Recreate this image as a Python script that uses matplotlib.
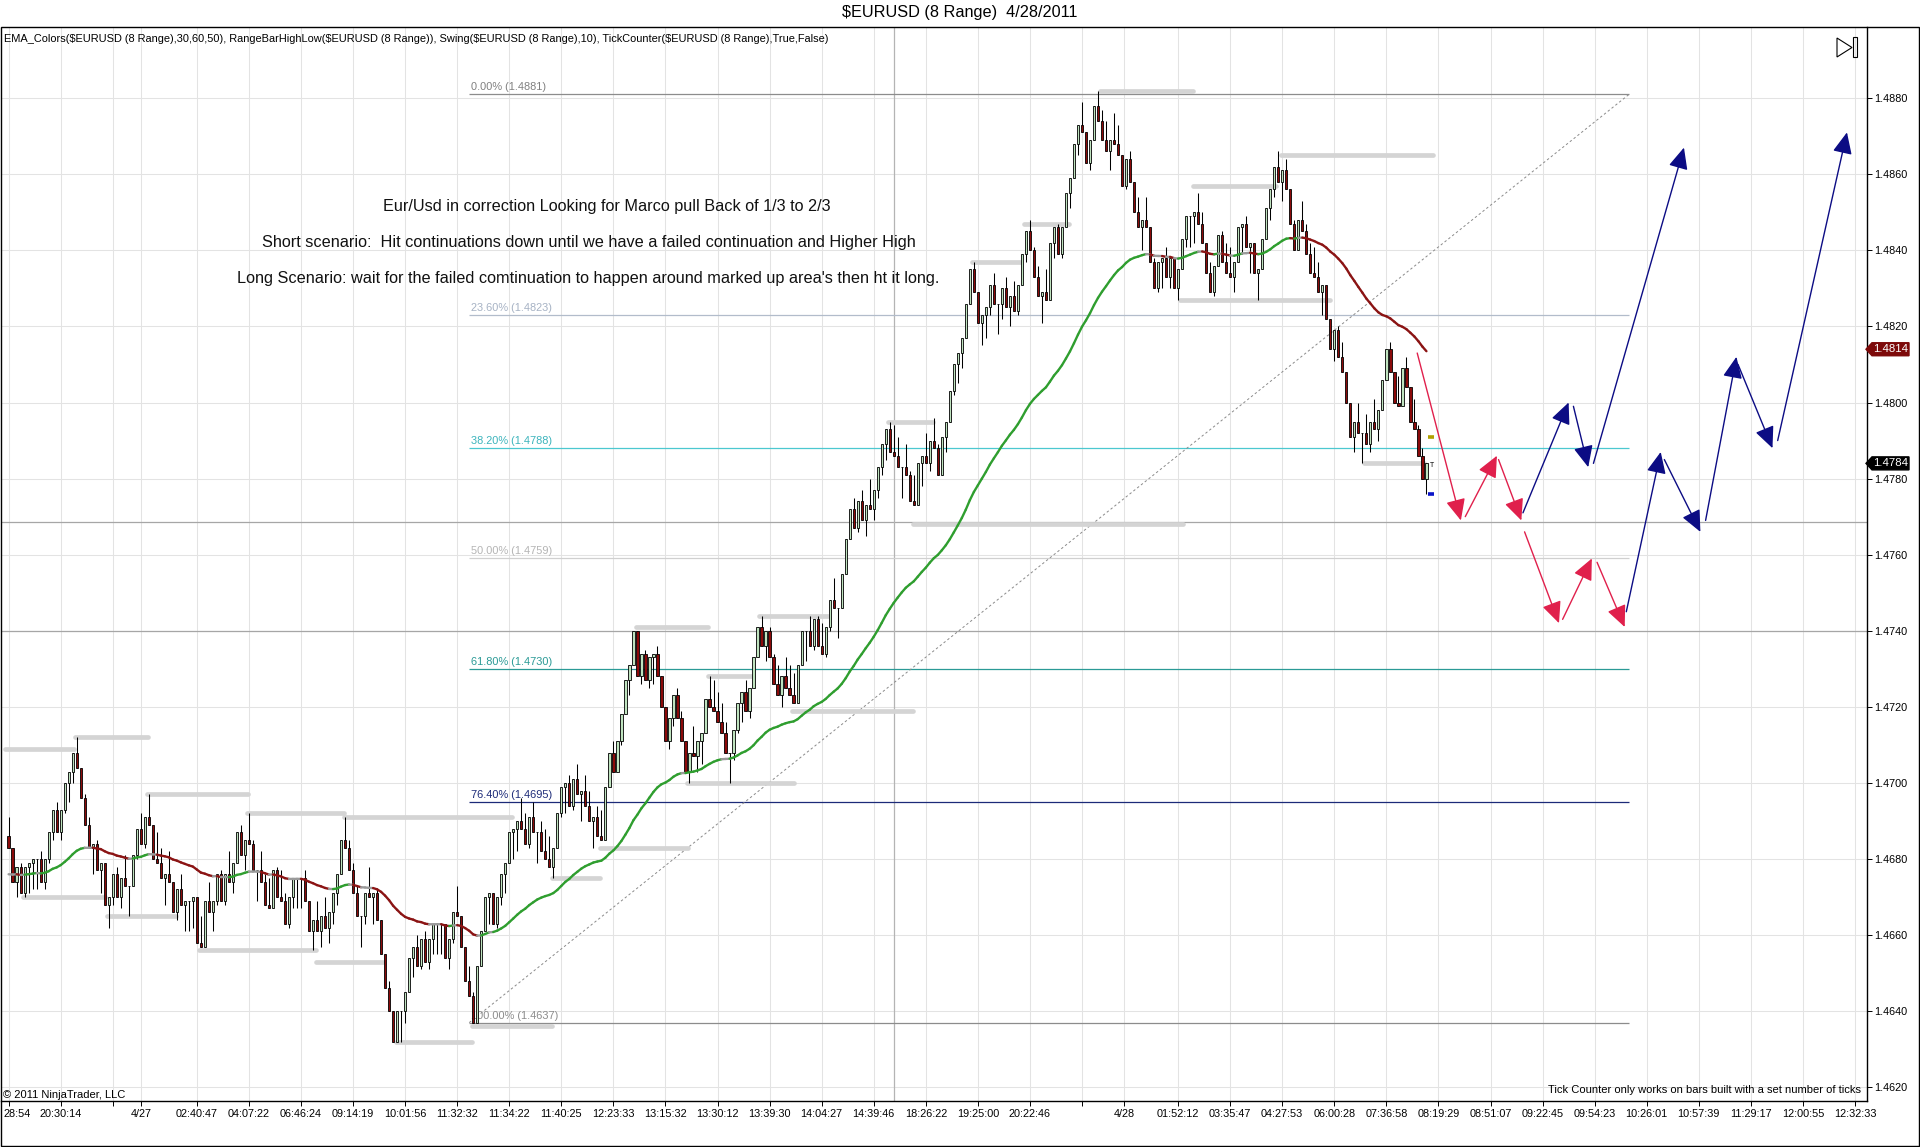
import numpy as np
import matplotlib
matplotlib.use("Agg")
import matplotlib.pyplot as plt
import matplotlib.transforms as mtrans
from matplotlib.patches import Polygon, Rectangle
from matplotlib.collections import LineCollection

plt.rcParams['font.family'] = ['Liberation Sans', 'DejaVu Sans']

# ---- data (prices in pips above BASE) ----
BASE = 1.4600
PIP = 0.0001
RANGE = 8            # 8 range bars
EMA_PERIOD = 50
ema_start = 1.4676

first_open = 86
closes_pips = [
    83, 74, 78, 71, 78, 79, 80, 80, 74, 80,
    87, 93, 87, 93, 100, 103, 108, 104, 96, 89,
    83, 84, 77, 79, 68, 70, 76, 70, 75, 73,
    73, 81, 88, 84, 91, 89, 80, 79, 75, 76,
    74, 66, 72, 68, 69, 69, 70, 58, 57, 69,
    66, 69, 76, 69, 76, 74, 79, 87, 81, 85,
    84, 77, 77, 74, 68, 67, 77, 70, 69, 63,
    70, 75, 75, 75, 69, 61, 64, 61, 65, 62,
    66, 71, 76, 85, 83, 77, 71, 65, 65, 71,
    70, 71, 64, 55, 46, 40, 32, 40, 40, 45,
    54, 57, 52, 59, 53, 59, 63, 63, 63, 54,
    59, 66, 65, 57, 48, 44, 37, 52, 61, 70,
    71, 63, 70, 76, 79, 87, 88, 90, 88, 84,
    91, 87, 87, 82, 80, 78, 83, 92, 99, 100,
    94, 101, 97, 98, 94, 90, 91, 86, 85, 99,
    108, 103, 111, 118, 127, 131, 140, 128, 134, 127,
    133, 134, 128, 120, 111, 117, 123, 117, 111, 103,
    108, 107, 111, 113, 122, 120, 119, 116, 113, 108,
    108, 114, 121, 124, 119, 125, 133, 141, 136, 140,
    133, 126, 123, 128, 125, 123, 121, 131, 140, 140,
    136, 143, 136, 134, 141, 148, 146, 146, 155, 164,
    172, 167, 174, 169, 173, 172, 177, 183, 189, 193,
    187, 186, 183, 183, 181, 174, 173, 184, 186, 184,
    190, 188, 181, 191, 195, 203, 210, 213, 217, 226,
    235, 229, 221, 223, 225, 231, 226, 226, 230, 225,
    228, 224, 231, 239, 245, 240, 233, 228, 229, 227,
    242, 246, 239, 246, 255, 259, 268, 273, 271, 263,
    269, 278, 274, 269, 266, 269, 268, 265, 257, 264,
    258, 250, 246, 248, 246, 237, 230, 237, 238, 233,
    238, 230, 235, 243, 249, 249, 250, 247, 242, 234,
    229, 236, 244, 237, 234, 233, 237, 246, 247, 241,
    242, 234, 235, 243, 251, 256, 262, 258, 261, 256,
    247, 240, 248, 245, 239, 234, 233, 229, 231, 222,
    214, 219, 212, 208, 200, 191, 195, 192, 192, 189,
    195, 193, 198, 206, 214, 208, 200, 199, 209, 204,
    195, 193, 186, 180, 184,
]

# swing high/low levels: (first bar, last bar, price)
swing_lines = [
    (-1.0, 16.4, 1.4709), (16.7, 34.8, 1.4712), (3.5, 24.0, 1.4670),
    (24.5, 41.8, 1.4665), (34.6, 59.8, 1.4697), (47.5, 76.8, 1.4656),
    (59.5, 83.8, 1.4692), (83.8, 125.6, 1.4691), (76.7, 93.5, 1.4653),
    (96.8, 115.6, 1.4632), (115.6, 135.6, 1.4636), (135.6, 147.7, 1.4675),
    (147.7, 169.7, 1.4683), (156.7, 174.7, 1.4741), (169.4, 196.0, 1.4700),
    (174.7, 185.9, 1.4728), (187.4, 204.7, 1.4744), (195.6, 225.9, 1.4719),
    (219.5, 230.9, 1.4795), (225.7, 293.2, 1.4768), (240.6, 252.8, 1.4837),
    (253.4, 264.8, 1.4847), (272.6, 295.8, 1.4882), (295.7, 316.4, 1.4857),
    (292.5, 329.8, 1.4827), (317.8, 355.6, 1.4865), (338.4, 353.4, 1.4784),
]

# fibonacci retracement
fib_pct = [0.0, 23.6, 38.2, 50.0, 61.8, 76.4, 100.0]
fib_price = [1.4881, 1.4823, 1.4788, 1.4759, 1.4730, 1.4695, 1.4637]
fib_line_col = ['#8c8c8c', '#b2bccb', '#4cc8d0', '#d0d0d0', '#2a9a96', '#1c2a78', '#8c8c8c']
fib_text_col = ['#808080', '#a6b2c4', '#3cb4bc', '#b4b4b4', '#2a9a96', '#1c2a78', '#8c8c8c']
fib_start, fib_end = 115, 404.6

# user drawn horizontal / vertical lines
h_lines = [1.4740, 1.47686]
v_lines = [221]

# projected path arrows: (bar0, price0, bar1, price1)
red_arrows = [
    (351.7, 1.4813, 362.6, 1.4769), (363.7, 1.4770, 371.6, 1.4786),
    (372.0, 1.4785, 377.7, 1.4769), (378.5, 1.4766, 387.1, 1.4742),
    (388.0, 1.4743, 395.3, 1.4759), (396.6, 1.4758, 403.5, 1.4741),
]
blue_arrows = [
    (378.1, 1.4771, 389.5, 1.4800), (390.7, 1.4799, 394.4, 1.4783),
    (395.7, 1.4784, 418.3, 1.4867), (403.9, 1.4745, 412.5, 1.4787),
    (413.4, 1.4785, 422.4, 1.4766), (423.7, 1.4769, 431.4, 1.4812),
    (431.8, 1.4810, 440.4, 1.4788), (441.7, 1.4790, 459.0, 1.4871),
]

# price markers on the axis
tag_values = [1.4814, 1.4784]
tag_colors = ['#7d0a0a', '#000000']

# tick counter markers next to the last bar
tc_values = [1.4791, 1.4776]
tc_colors = ['#b0a000', '#0a14c8']

tick_pos = [0, 13, 26, 33, 47, 60, 73, 86, 99, 112, 125, 138, 151, 164, 177, 190,
            203, 216, 229, 242, 255, 268, 278.5, 292, 305, 318, 331, 344, 357, 370,
            383, 396, 409, 422, 435, 448, 461]
tick_lbl = ['28:54', '20:30:14', '', '4/27', '02:40:47', '04:07:22', '06:46:24',
            '09:14:19', '10:01:56', '11:32:32', '11:34:22', '11:40:25', '12:23:33',
            '13:15:32', '13:30:12', '13:39:30', '14:04:27', '14:39:46', '18:26:22',
            '19:25:00', '20:22:46', '', '4/28', '01:52:12', '03:35:47', '04:27:53',
            '06:00:28', '07:36:58', '08:19:29', '08:51:07', '09:22:45', '09:54:23',
            '10:26:01', '10:57:39', '11:29:17', '12:00:55', '12:32:33']
y_ticks = [1.4620, 1.4640, 1.4660, 1.4680, 1.4700, 1.4720, 1.4740, 1.4760,
           1.4780, 1.4800, 1.4820, 1.4840, 1.4860, 1.4880]

notes = [
    "Eur/Usd in correction Looking for Marco pull Back of 1/3 to 2/3",
    "Short scenario:  Hit continuations down until we have a failed continuation and Higher High",
    "Long Scenario: wait for the failed comtinuation to happen around marked up area's then ht it long.",
]

# ---- derived ----
closes = BASE + np.array(closes_pips) * PIP
n = len(closes)
bars = np.arange(n)
opens = np.r_[BASE + first_open * PIP, closes[:-1]]
up = closes >= opens
rng = RANGE * PIP
highs = np.where(up, closes, np.maximum(opens, closes + rng))
lows = np.where(up, np.minimum(opens, closes - rng), closes)

alpha = 2.0 / (EMA_PERIOD + 1)
ema = np.empty(n)
ema[0] = ema_start
for i in range(1, n):
    ema[i] = ema[i - 1] + alpha * (closes[i] - ema[i - 1])

# ---- figure ----
W, H = 1920, 1147
fig = plt.figure(figsize=(W / 100, H / 100), dpi=100)
ax_l, ax_r, ax_t, ax_b = 1, 1867, 27, 1101
ax = fig.add_axes([ax_l / W, 1 - ax_b / H, (ax_r - ax_l) / W, (ax_b - ax_t) / H])
ax.set_xlim(-1.9, 464.0)
ax.set_ylim(1.46164, 1.48987)
ax.set_facecolor('white')

for s in ['top', 'left']:
    ax.spines[s].set_visible(False)
ax.spines['right'].set_linewidth(1.0)
ax.spines['bottom'].set_linewidth(1.0)

ax.set_xticks(tick_pos)
ax.set_xticklabels(tick_lbl)
ax.set_yticks(y_ticks)
ax.set_yticklabels([f"{v:.4f}" for v in y_ticks])
ax.yaxis.tick_right()
ax.tick_params(axis='x', direction='out', length=3.6, width=0.7, pad=2, labelsize=7.8)
ax.tick_params(axis='y', direction='out', length=3.6, width=0.7, pad=1.5, labelsize=7.8)
# first time label sits against the left edge, as in the chart
first_lbl = ax.get_xticklabels()[0]
first_lbl.set_ha('left')
first_lbl.set_transform(first_lbl.get_transform() +
                        mtrans.ScaledTranslation(-5 / 100, 0, fig.dpi_scale_trans))
ax.set_axisbelow(True)
ax.grid(True, color='#e3e3e3', lw=0.75)

for v in h_lines:
    ax.axhline(v, color='#a6a6a6', lw=0.9, zorder=1)
for v in v_lines:
    ax.axvline(v, color='#b4b4b4', lw=0.9, zorder=1)

# fibonacci
for pct, p, lc, tc in zip(fib_pct, fib_price, fib_line_col, fib_text_col):
    ax.hlines(p, fib_start, fib_end, color=lc, lw=0.9, zorder=1.5)
    ax.annotate(f"{pct:.2f}% ({p:.4f})", (fib_start, p), xytext=(1, 1.5),
                textcoords='offset points', ha='left', va='bottom',
                fontsize=7.9, color=tc, zorder=1.6)
ax.plot([fib_start, fib_end], [fib_price[-1], fib_price[0]], color='#8a8a8a',
        lw=0.7, ls=(0, (2.5, 2.5)), zorder=1.6)

# swing levels
for b0, b1, p in swing_lines:
    ax.plot([b0, b1], [p, p], color='#d4d4d4', lw=3.4, solid_capstyle='round', zorder=2)

# candles
ax.vlines(bars, lows, highs, color='black', lw=0.75, zorder=3)
body_h = closes - opens
ax.bar(bars[up], body_h[up], bottom=opens[up], width=0.56, color='#bfe3bf',
       edgecolor='black', linewidth=0.6, zorder=4)
ax.bar(bars[~up], body_h[~up], bottom=opens[~up], width=0.56, color='#8b0a0a',
       edgecolor='black', linewidth=0.6, zorder=4)

# EMA coloured by slope
slope = np.diff(ema) / PIP
seg = [[(bars[i], ema[i]), (bars[i + 1], ema[i + 1])] for i in range(n - 1)]
cols = ['#2f9e2f' if s > 0.12 else ('#8b1414' if s < -0.12 else '#9a9a9a') for s in slope]
ax.add_collection(LineCollection(seg, colors=cols, linewidths=1.7, zorder=5,
                                 capstyle='round'))

# tick counter markers
last = bars[-1]
for v, c in zip(tc_values, tc_colors):
    ax.plot([last + 0.5, last + 2.0], [v, v], color=c, lw=2.6, solid_capstyle='butt', zorder=5)
ax.text(last + 1.3, closes[-1] - 0.5 * PIP, "T", fontsize=5, ha='center', va='center', zorder=5)

# projected arrows
for arrows, col in [(red_arrows, '#e0204c'), (blue_arrows, '#0c0c84')]:
    for b0, p0, b1, p1 in arrows:
        ax.annotate('', xy=(b1, p1), xytext=(b0, p0), zorder=6,
                    arrowprops=dict(arrowstyle='-|>,head_length=1.1,head_width=0.5',
                                    color=col, lw=1.0, shrinkA=0, shrinkB=0,
                                    mutation_scale=12))

# price tags on the axis
blend = mtrans.blended_transform_factory(fig.transFigure, ax.transData)
px_per_price = (ax_b - ax_t) / (1.48987 - 1.46164)
hh = 6.5 / px_per_price
for v, c in zip(tag_values, tag_colors):
    xs = np.array([1866, 1872, 1909, 1909, 1872]) / W
    ys = [v, v + hh, v + hh, v - hh, v - hh]
    fig.add_artist(Polygon(list(zip(xs, ys)), closed=True, facecolor=c, edgecolor=c,
                           transform=blend, clip_on=False, zorder=10))
    fig.text(1890.5 / W, v, f"{v:.4f}", transform=blend, color='white', fontsize=8.2,
             ha='center', va='center', zorder=11)

# texts
fig.text(0.5, 1 - 13 / H, r"\$EURUSD (8 Range)  4/28/2011", ha='center', va='center',
         fontsize=11.7)
hdr = ("EMA_Colors($EURUSD (8 Range),30,60,50), RangeBarHighLow($EURUSD (8 Range)), "
       "Swing($EURUSD (8 Range),10), TickCounter($EURUSD (8 Range),True,False)")
fig.text(4 / W, 1 - 39 / H, hdr.replace('$', r'\$'), ha='left', va='center', fontsize=7.9)
fig.text(3 / W, 1 - 1095 / H, "\u00a9 2011 NinjaTrader, LLC", ha='left', va='center',
         fontsize=8.0)
fig.text(1861 / W, 1 - 1090 / H, "Tick Counter only works on bars built with a set number of ticks",
         ha='right', va='center', fontsize=8.0)
for txt, (cx, cy) in zip(notes, [(606.8, 206), (589.3, 242.5), (588.5, 279)]):
    fig.text(cx / W, 1 - cy / H, txt, ha='center', va='center', fontsize=11.7, color='#111111')

# outer frame and end-of-chart icon
fig.add_artist(Rectangle((0.5 / W, 1 - 1146 / H), 1918 / W, (1146 - 26.5) / H,
                         transform=fig.transFigure, fill=False, lw=1.0, edgecolor='black'))
tri = [(1837 / W, 1 - 38 / H), (1852 / W, 1 - 47.5 / H), (1837 / W, 1 - 57 / H)]
fig.add_artist(Polygon(tri, closed=True, fill=False, lw=0.8, edgecolor='black',
                       transform=fig.transFigure))
fig.add_artist(Rectangle((1853 / W, 1 - 57 / H), 3.5 / W, 20 / H, fill=False, lw=0.8,
                         edgecolor='black', transform=fig.transFigure))

fig.savefig("out.png", dpi=100)
